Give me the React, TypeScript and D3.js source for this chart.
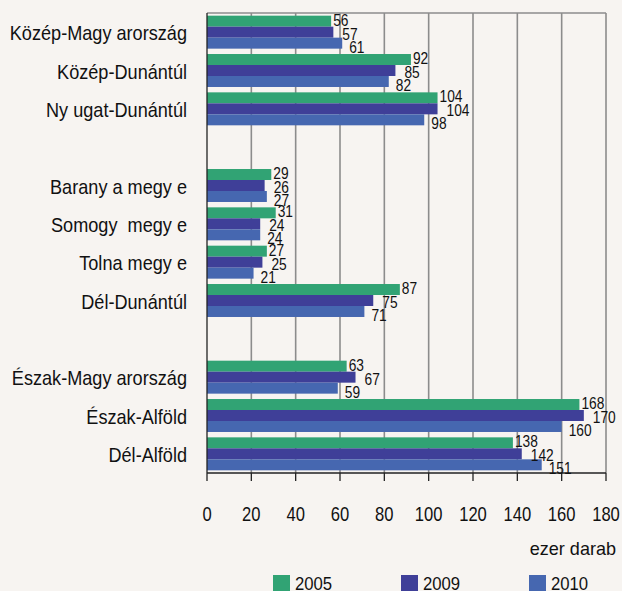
import React from 'react';
import * as d3 from 'd3';

const categories = [
  'Közép-Magy arország', 'Közép-Dunántúl', 'Ny ugat-Dunántúl', '',
  'Barany a megy e', 'Somogy  megy e', 'Tolna megy e', 'Dél-Dunántúl', '',
  'Észak-Magy arország', 'Észak-Alföld', 'Dél-Alföld',
];
const years = ['2005', '2009', '2010'];
const v2005 = [56, 92, 104, null, 29, 31, 27, 87, null, 63, 168, 138];
const v2009 = [57, 85, 104, null, 26, 24, 25, 75, null, 67, 170, 142];
const v2010 = [61, 82, 98, null, 27, 24, 21, 71, null, 59, 160, 151];
const xTicks = [0, 20, 40, 60, 80, 100, 120, 140, 160, 180];

const colors = ['#31a374', '#3f3f98', '#4667b0'];
// label nudges per series (Excel pushes them right/down a bit per row)
const labelDx = [2, 9, 7];
const labelDy = [-1, 2, 4];

const W = 622;
const H = 591;
const left = 207;
const right = 606;
const top = 13;
const bottom = 473;
const font = '"Liberation Sans", Arial, sans-serif';

const T = ({ x, y, size, sx, anchor, children }: any) => (
  <text
    transform={`translate(${x},${y}) scale(${sx},1)`}
    fontSize={size}
    fontFamily={font}
    textAnchor={anchor}
    fill="#111"
    style={{ whiteSpace: 'pre' }}
  >
    {children}
  </text>
);

const App = () => {
  const series = [v2005, v2009, v2010];
  const x = d3.scaleLinear().domain([0, 180]).range([left, right]);
  const y = d3
    .scaleBand<number>()
    .domain(categories.map((_, i) => i))
    .range([top, bottom])
    .paddingInner(0.14)
    .paddingOuter(0.07);
  const ys = d3.scaleBand<number>().domain([0, 1, 2]).range([0, y.bandwidth()]);

  return (
    <svg width={W} height={H} style={{ position: 'absolute', left: 0, top: 0, background: '#f7f4f1' }}>
      <rect x={0} y={0} width={W} height={H} fill="#f7f4f1" />
      {/* grid */}
      {xTicks.filter((t) => t > 0).map((t) => (
        <line key={t} x1={x(t)} x2={x(t)} y1={top} y2={bottom} stroke="#8c8c8c" strokeWidth={1.6} />
      ))}
      <line x1={left} x2={right} y1={top} y2={top} stroke="#8c8c8c" strokeWidth={1.6} />

      {/* bars */}
      {series.map((vals, s) =>
        vals.map((v, i) =>
          v == null ? null : (
            <rect
              key={`${s}-${i}`}
              x={x(0)}
              y={(y(i) as number) + (ys(s) as number)}
              width={x(v) - x(0)}
              height={ys.bandwidth()}
              fill={colors[s]}
            />
          )
        )
      )}

      {/* axes */}
      <line x1={left} x2={left} y1={top} y2={bottom} stroke="#222" strokeWidth={1.3} />
      <line x1={left} x2={right} y1={bottom} y2={bottom} stroke="#222" strokeWidth={1.3} />
      {xTicks.map((t) => (
        <line key={t} x1={x(t)} x2={x(t)} y1={bottom} y2={bottom + 8} stroke="#222" strokeWidth={1.3} />
      ))}

      {/* value labels */}
      {series.map((vals, s) =>
        vals.map((v, i) =>
          v == null ? null : (
            <T
              key={`l${s}-${i}`}
              x={x(v) + labelDx[s]}
              y={(y(i) as number) + (ys(s) as number) + ys.bandwidth() / 2 + labelDy[s] + 5.5}
              size={16}
              sx={0.86}
              anchor="start"
            >
              {v}
            </T>
          )
        )
      )}

      {/* category labels */}
      {categories.map((c, i) =>
        c ? (
          <T key={c} x={187} y={(y(i) as number) + y.bandwidth() / 2 + 8} size={19.5} sx={0.93} anchor="end">
            {c}
          </T>
        ) : null
      )}

      {/* tick labels */}
      {xTicks.map((t) => (
        <T key={t} x={x(t)} y={521} size={20} sx={0.83} anchor="middle">
          {t}
        </T>
      ))}
      <T x={616} y={555} size={19} sx={0.95} anchor="end">
        ezer darab
      </T>

      {/* legend */}
      {years.map((yr, s) => (
        <g key={yr}>
          <rect x={273 + s * 128} y={575} width={17} height={17} fill={colors[s]} />
          <T x={295 + s * 128} y={590} size={19} sx={0.88} anchor="start">
            {yr}
          </T>
        </g>
      ))}
    </svg>
  );
};

export default App;
